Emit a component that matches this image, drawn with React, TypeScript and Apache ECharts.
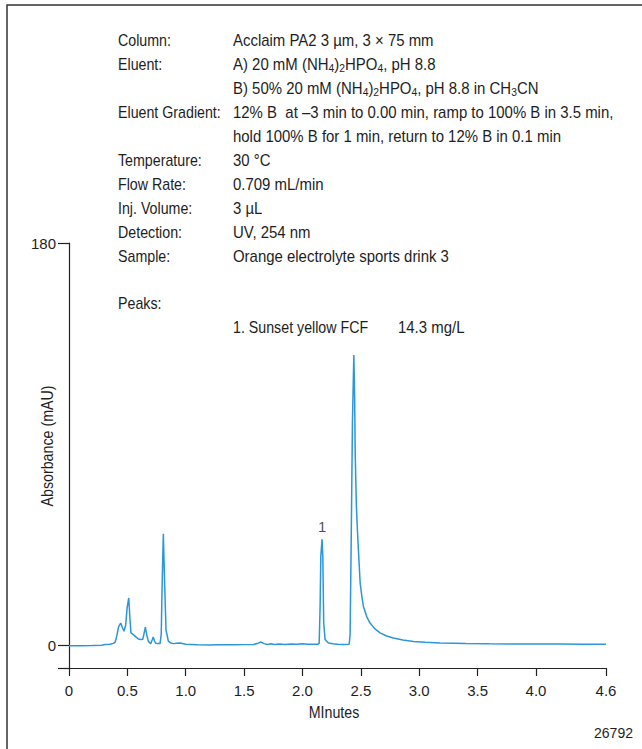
import React, { useEffect, useRef } from "react";
import * as echarts from "echarts";

// Chromatogram: retention time (min) and absorbance (mAU)
const times = [
  0, 0.1, 0.2, 0.28, 0.31, 0.35, 0.38, 0.395, 0.41, 0.425, 0.443, 0.458, 0.471, 0.485, 0.498, 0.512, 0.522, 0.531,
  0.551, 0.575, 0.594, 0.615, 0.632, 0.643, 0.654, 0.665, 0.68, 0.7, 0.712, 0.722, 0.732, 0.74, 0.76, 0.78,
  0.79, 0.797, 0.808, 0.818, 0.831, 0.851, 0.87, 0.894, 0.92, 0.951, 1.0, 1.1, 1.2, 1.3, 1.4, 1.5, 1.58, 1.62,
  1.645, 1.67, 1.7, 1.73, 1.76, 1.8, 1.85, 1.9, 1.95, 2.0, 2.05, 2.1, 2.13, 2.143, 2.151, 2.157, 2.168, 2.174,
  2.182, 2.194, 2.222, 2.26, 2.3, 2.35, 2.4, 2.408, 2.418, 2.428, 2.44, 2.447, 2.452, 2.462, 2.472, 2.479,
  2.494, 2.51, 2.522, 2.55, 2.579, 2.62, 2.665, 2.72, 2.779, 2.86, 2.95, 3.05, 3.18, 3.4, 3.6, 3.8, 4.0, 4.2,
  4.4, 4.6,
];
const absorbance = [
  0, 0, 0.1, 0.2, 0.5, 0.6, 1.0, 1.5, 4.5, 8.5, 10.1, 8, 6.4, 9, 17, 21.3, 12, 5.7,
  4.9, 3.8, 3, 2.7, 2.8, 5.5, 8.3, 5, 1.9, 0.9, 2.5, 3.9, 2.2, 1.2, 0.9, 0.9,
  5, 25, 50, 30, 7, 2, 1.2, 0.9, 1.1, 1.2, 0.6, 0.4, 0.3, 0.4, 0.35, 0.45, 0.5, 1.1,
  1.6, 0.9, 0.5, 0.8, 0.5, 0.7, 0.5, 0.7, 0.6, 0.8, 0.6, 0.6, 0.6, 1.0, 17.5, 40, 47.6, 40,
  10, 2.7, 1.2, 0.8, 0.6, 0.5, 0.6, 5, 50, 100, 129.9, 110, 85, 62, 50, 43,
  28, 21.5, 17.5, 13, 10.1, 7.5, 5.7, 4.3, 3.4, 2.5, 1.9, 1.5, 1.2, 1.0, 0.85, 0.75, 0.7, 0.7,
  0.65, 0.6,
];

const peakLabels = ["1"];
const peakTimes = [2.168];
const peakHeights = [47.6];

const xTickValues = [0, 0.5, 1.0, 1.5, 2.0, 2.5, 3.0, 3.5, 4.0, 4.6];
const yTickValues = [-10, 0, 180];
const yLabelValues = [0, 180];

const infoLabels = [
  "Column:", "Eluent:", "", "Eluent Gradient:", "", "Temperature:", "Flow Rate:", "Inj. Volume:", "Detection:", "Sample:",
];
const infoValues = [
  "Acclaim PA2 3 µm, 3 × 75 mm",
  "A) 20 mM (NH{s|4}){s|2}HPO{s|4}, pH 8.8",
  "B) 50% 20 mM (NH{s|4}){s|2}HPO{s|4}, pH 8.8 in CH{s|3}CN",
  "12% B  at –3 min to 0.00 min, ramp to 100% B in 3.5 min,",
  "hold 100% B for 1 min, return to 12% B in 0.1 min",
  "30 °C",
  "0.709 mL/min",
  "3 µL",
  "UV, 254 nm",
  "Orange electrolyte sports drink 3",
];
const peaksTitle = "Peaks:";
const peakNames = ["1. Sunset yellow FCF"];
const peakConcs = ["14.3 mg/L"];
const figureId = "26792";
const xName = "MInutes";
const yName = "Absorbance (mAU)";

const FONT = "'Liberation Sans', Arial, sans-serif";
const TXT = "#1e1e1e";
const FS = 16;
const SX_LABEL = 0.89;
const SX_VALUE = 0.935;
const AXFS = 15;

export default function App() {
  const ref = useRef<HTMLDivElement>(null);
  useEffect(() => {
    if (!ref.current) return;
    const chart = echarts.init(ref.current, null, { renderer: "svg" });
    const lineData = times.map((t, i) => [t, absorbance[i]]);
    const peakData = peakTimes.map((t, i) => ({
      value: [t, peakHeights[i]],
      label: { show: true, formatter: peakLabels[i] },
    }));

    const baseStyle = { fontFamily: FONT, fontSize: FS, fill: TXT, lineHeight: 18 };
    const rich = { s: { fontFamily: FONT, fontSize: 11, fill: TXT, lineHeight: 10, padding: [8, 0, 0, 0] } };
    const txt = (x: number, y: number, sx: number, style: any, extra: any = {}) => ({
      type: "text",
      x,
      y,
      scaleX: sx,
      style: { ...baseStyle, verticalAlign: "middle", align: "left", ...style },
      ...extra,
    });
    const graphics: any[] = [
      { type: "polyline", shape: { points: [[7, 749], [7, 5], [642, 5]] }, style: { stroke: "#333", lineWidth: 1.5, fill: null } },
    ];
    infoLabels.forEach((l, i) => {
      const y = 40 + i * 24;
      if (l) graphics.push(txt(118, y, SX_LABEL, { text: l }));
      graphics.push(txt(233, y, SX_VALUE, { text: infoValues[i], rich }));
    });
    graphics.push(txt(118, 303, SX_LABEL, { text: peaksTitle }));
    peakNames.forEach((n, i) => {
      graphics.push(txt(233, 327 + i * 24, SX_LABEL, { text: n }));
      graphics.push(txt(398, 327 + i * 24, SX_VALUE, { text: peakConcs[i] }));
    });
    graphics.push(txt(334, 712, SX_LABEL, { text: xName, align: "center" }));
    graphics.push(txt(47, 446, SX_LABEL, { text: yName, align: "center" }, { rotation: Math.PI / 2 }));
    graphics.push(txt(633, 733, SX_VALUE, { text: figureId, align: "right", fontSize: 15 }));

    chart.setOption({
      animation: false,
      backgroundColor: "#ffffff",
      textStyle: { fontFamily: FONT },
      grid: { left: 69, right: 36, top: 243, bottom: 81, containLabel: false },
      xAxis: {
        type: "value",
        min: 0,
        max: 4.6,
        axisLine: { show: true, onZero: false, lineStyle: { color: "#222", width: 1.2 } },
        axisTick: { show: true, length: 8, lineStyle: { color: "#222", width: 1.2 }, customValues: xTickValues },
        axisLabel: {
          show: true,
          customValues: xTickValues,
          formatter: (v: number) => (v === 0 ? "0" : v.toFixed(1)),
          color: TXT,
          fontFamily: FONT,
          fontSize: AXFS,
          margin: 15,
        },
        splitLine: { show: false },
      },
      yAxis: {
        type: "value",
        min: -10,
        max: 180,
        axisLine: { show: true, onZero: false, lineStyle: { color: "#222", width: 1.2 } },
        axisTick: { show: true, length: 11, lineStyle: { color: "#222", width: 1.2 }, customValues: yTickValues },
        axisLabel: { show: true, customValues: yLabelValues, color: TXT, fontFamily: FONT, fontSize: AXFS, margin: 13 },
        splitLine: { show: false },
      },
      series: [
        {
          type: "line",
          data: lineData,
          showSymbol: false,
          symbol: "none",
          smooth: false,
          lineStyle: { color: "#2b96d9", width: 1.5 },
          z: 2,
        },
        {
          type: "scatter",
          data: peakData,
          symbolSize: 1,
          itemStyle: { color: "rgba(0,0,0,0)" },
          label: { show: true, position: "top", distance: 5, color: TXT, fontFamily: FONT, fontSize: AXFS },
          z: 3,
        },
      ],
      graphic: graphics,
    });
    return () => chart.dispose();
  }, []);
  return <div ref={ref} style={{ position: "absolute", left: 0, top: 0, width: 642, height: 749 }} />;
}
